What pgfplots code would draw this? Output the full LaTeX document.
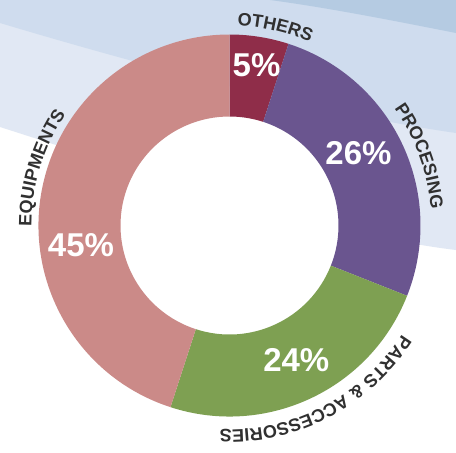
\documentclass[border=0pt]{standalone}
\usepackage{pgfplots}
\pgfplotsset{compat=1.18}
\usepackage{pgfplotstable}
\usepackage{fontspec}
\setmainfont{Liberation Sans}
\usetikzlibrary{decorations.text}

\definecolor{cOth}{HTML}{8F2D49}
\definecolor{cPro}{HTML}{6A558F}
\definecolor{cPar}{HTML}{7EA052}
\definecolor{cEqu}{HTML}{CB8A88}
\definecolor{bgLight}{HTML}{E1E8F4}
\definecolor{bgMid}{HTML}{CFDCEE}
\definecolor{bgDark}{HTML}{B5CBE2}
\definecolor{txt}{HTML}{303030}

% share of each category, in percent
\pgfplotstableread{
name value
OTHERS 5
PROCESING 26
PARTS 24
EQUIPMENTS 45
}\piedata

% ring sector: start angle, end angle, colour (centre and radii in px of the picture)
\newcommand\slice[3]{%
  \fill[#3] (229.5,225.5) ++(#1:191pt) arc[start angle=#1, end angle=#2, radius=191pt]
    -- ++(#2:-82pt) arc[start angle=#2, end angle=#1, radius=109pt] -- cycle;}
\newcommand\lbl{\bfseries\fontsize{18}{18}\selectfont\color{txt}}

\begin{document}
\begin{tikzpicture}
\pgfplotstablegetelem{0}{value}\of\piedata\let\vA\pgfplotsretval
\pgfplotstablegetelem{1}{value}\of\piedata\let\vB\pgfplotsretval
\pgfplotstablegetelem{2}{value}\of\piedata\let\vC\pgfplotsretval
\pgfplotstablegetelem{3}{value}\of\piedata\let\vD\pgfplotsretval
% clockwise from 12 o'clock
\pgfmathsetmacro\aA{90}
\pgfmathsetmacro\aB{\aA-3.6*\vA}
\pgfmathsetmacro\aC{\aB-3.6*\vB}
\pgfmathsetmacro\aD{\aC-3.6*\vC}
\pgfmathsetmacro\aE{\aD-3.6*\vD}
\begin{axis}[
  width=456pt, height=453pt, scale only axis,
  xmin=0, xmax=456, ymin=0, ymax=453, y dir=reverse,
  hide axis, clip=true,
]
% background bands
\fill[white] (0,0) rectangle (456,453);
\fill[bgLight] (0,0) -- (0,127) .. controls (150,175) and (330,235) .. (456,250) -- (456,0) -- cycle;
\fill[bgMid] (0,0) -- (0,23) .. controls (150,68) and (330,115) .. (456,133) -- (456,0) -- cycle;
\fill[bgDark] (270,0) .. controls (330,8) and (400,22) .. (456,33) -- (456,0) -- cycle;

% donut
\fill[white] (229.5,225.5) circle[radius=110pt];
\slice{\aA}{\aB}{cOth}
\slice{\aB}{\aC}{cPro}
\slice{\aC}{\aD}{cPar}
\slice{\aD}{\aE}{cEqu}

% values
\node[font=\bfseries\fontsize{33}{33}\selectfont, text=white] at (256.5,65) {\vA\%};
\node[font=\bfseries\fontsize{33}{33}\selectfont, text=white] at (358.5,153.5) {\vB\%};
\node[font=\bfseries\fontsize{33}{33}\selectfont, text=white] at (296.3,360.5) {\vC\%};
\node[font=\bfseries\fontsize{33}{33}\selectfont, text=white] at (81,245) {\vD\%};

% curved category names
\path[decorate, decoration={text along path, text align=center, text={|\lbl|OTHERS}}]
  (229.5,225.5) ++(107:200pt) arc[start angle=107, end angle=47, radius=200pt];
\path[decorate, decoration={text along path, text align=center, text={|\lbl|PROCESING}}]
  (229.5,225.5) ++(60:202pt) arc[start angle=60, end angle=-20, radius=202pt];
\path[decorate, decoration={text along path, text align=center, text={|\lbl|PARTS {\&} ACCESSORIES}}]
  (229.5,225.5) ++(-10:204pt) arc[start angle=-10, end angle=-115, radius=204pt];
\path[decorate, decoration={text along path, text align=center, text={|\lbl|EQUIPMENTS}}]
  (229.5,225.5) ++(203:198pt) arc[start angle=203, end angle=123, radius=198pt];
\end{axis}
\end{tikzpicture}
\end{document}
